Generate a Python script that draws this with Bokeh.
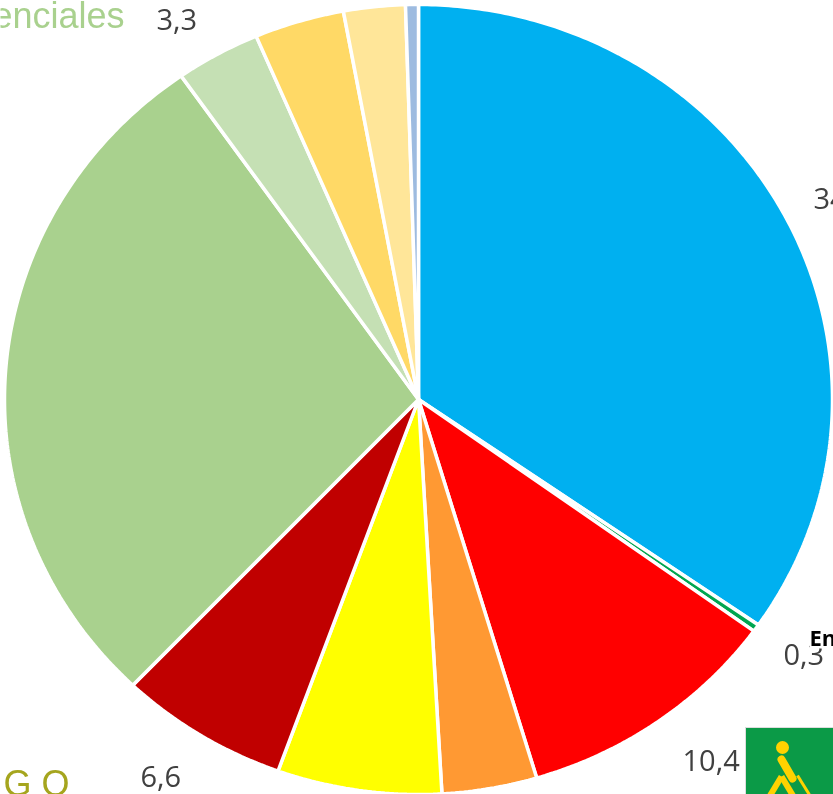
from bokeh.plotting import figure
from bokeh.embed import file_html
from bokeh.resources import INLINE
from bokeh.core.properties import value
from bokeh.models import Range1d
import math

W, H = 833, 794
CX, CY, RX, RY = 418.0, 399.0, 414.0, 395.0

slice_values = [34.6, 0.3, 10.4, 3.7, 6.4, 6.6, 28.1, 3.3, 3.5, 2.4, 0.5]
slice_colors = ["#00B0F0", "#00A650", "#FF0000", "#FF9933", "#FFFF00", "#C00000",
                "#A9D18E", "#C5E0B4", "#FFD966", "#FFE699", "#9DBBE0"]
label_texts = ["34", "0,3", "10,4", "6,6", "3,3"]


def dx(px):
    return (px - CX) / RX


def dy(py):
    return (CY - py) / RY


p = figure(width=W, height=H, output_backend="svg", toolbar_location=None,
           x_range=Range1d(dx(0), dx(W)), y_range=Range1d(dy(H), dy(0)),
           min_border=0, outline_line_color=None,
           styles={"position": "fixed", "left": "0px", "top": "0px"})
p.axis.visible = False
p.grid.visible = False
p.background_fill_color = "white"
p.border_fill_color = "white"

total = sum(slice_values)
cum = 0.0
for v, c in zip(slice_values, slice_colors):
    a0 = cum / total * 2 * math.pi
    a1 = (cum + v) / total * 2 * math.pi
    cum += v
    n = max(3, int(v * 6))
    xs = [0.0] + [math.sin(a0 + (a1 - a0) * i / n) for i in range(n + 1)]
    ys = [0.0] + [math.cos(a0 + (a1 - a0) * i / n) for i in range(n + 1)]
    p.patch(xs, ys, fill_color=c, line_color="white", line_width=3.5)


def txt(s, x, y, size, color, font="Open Sans", style="normal"):
    # y is the wanted baseline; the svg text sits lower than asked, so lift it
    p.text([dx(x)], [dy(y - 0.38 * size)], text=[s], text_font=value(font),
           text_font_size=f"{size}px", text_color=color, text_font_style=style,
           text_align="left", text_baseline="alphabetic")


GREY = "#404040"
txt(label_texts[0], 813, 209, 29, GREY)
txt(label_texts[1], 783, 665, 29, GREY)
txt(label_texts[2], 682, 771, 29, GREY)
txt(label_texts[3], 140, 787, 29, GREY)
txt(label_texts[4], 156, 30, 29, GREY)
txt("enciales", -8, 29, 36, "#A9D18E", font="Liberation Sans")
txt("G O", 3, 797, 36, "#A5A51E", font="Liberation Sans")

# white patch behind the clipped word, hiding the top of the 0,3 label
p.quad(left=[dx(809)], right=[dx(W)], top=[dy(625)], bottom=[dy(648)],
       fill_color="white", line_color=None)
txt("En", 809, 645, 22, "#000000", style="bold")

# badge in the lower right corner
Y = "#FFD200"
p.quad(left=[dx(745)], right=[dx(W + 2)], top=[dy(727)], bottom=[dy(H + 2)],
       fill_color="#0B9A47", line_color="#DDDDDD", line_width=1)
p.scatter([dx(782)], [dy(747)], size=13, fill_color=Y, line_color=None)
p.line([dx(797), dx(810)], [dy(775), dy(796)], line_color=Y, line_width=3)
p.line([dx(781), dx(769)], [dy(776), dy(796)], line_color=Y, line_width=6)
p.line([dx(781), dx(793)], [dy(776), dy(796)], line_color=Y, line_width=6)
p.line([dx(781), dx(792)], [dy(759), dy(778)], line_color=Y, line_width=8, line_cap="round")

open("out.html", "w").write(file_html(p, INLINE))
